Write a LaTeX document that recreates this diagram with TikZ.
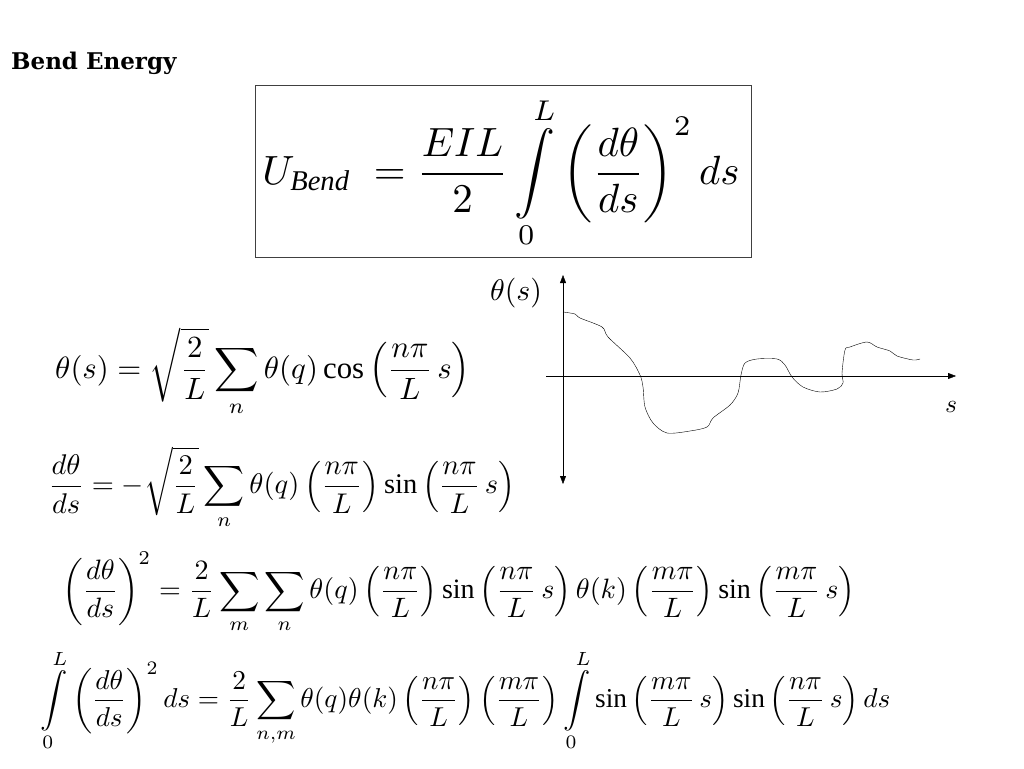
\documentclass[tikz,border=0pt]{standalone}
\usepackage{amsmath}
\usepackage{fontspec}
\usepackage{graphicx}
\setmainfont{Liberation Serif}
\newfontfamily\titlefont{DejaVu Serif}
\usetikzlibrary{arrows.meta}
\tikzset{
  eqn/.style={anchor=west, inner sep=0pt},
  axis/.style={thin, {Triangle[length=8pt,width=6pt]}-{Triangle[length=8pt,width=6pt]}}
}
\newcommand{\fitw}[2]{\resizebox{#1pt}{!}{$\displaystyle #2$}}

\begin{document}
\begin{tikzpicture}[x=1pt,y=-1pt]
\useasboundingbox (0,0) rectangle (1024,768);

\node[anchor=base west, inner sep=0pt, font=\titlefont\bfseries\fontsize{23}{26}\selectfont] (title) at (11,70) {Bend Energy};

% boxed energy
\node[draw=black!75, thin, minimum width=496pt, minimum height=172pt, inner sep=0pt] (ubox) at (503,171) {};
\node[inner sep=0pt] (ubend) at (501,173) {\fitw{477}{U_{\text{\itshape Bend}}\;=\frac{EIL}{2}\int\limits_0^L\left(\frac{d\theta}{ds}\right)^{2}ds}};

% mode expansion
\node[eqn] (eqtheta) at (55,372) {\fitw{415}{\theta(s)=\sqrt{\frac{2}{L}}\sum\limits_{n}\theta(q)\cos\left(\frac{n\pi}{L}\,s\right)}};
\node[eqn] (eqdtheta) at (48,488) {\fitw{467}{\frac{d\theta}{ds}=-\sqrt{\frac{2}{L}}\sum\limits_{n}\theta(q)\left(\frac{n\pi}{L}\right)\sin\left(\frac{n\pi}{L}\,s\right)}};
\node[eqn] (eqsq) at (62,593) {\fitw{793}{\left(\frac{d\theta}{ds}\right)^{2}=\frac{2}{L}\sum\limits_{m}\sum\limits_{n}\theta(q)\left(\frac{n\pi}{L}\right)\sin\left(\frac{n\pi}{L}\,s\right)\theta(k)\left(\frac{m\pi}{L}\right)\sin\left(\frac{m\pi}{L}\,s\right)}};
\node[eqn] (eqint) at (40,700) {\fitw{850}{\int\limits_0^L\left(\frac{d\theta}{ds}\right)^{2}ds=\frac{2}{L}\sum\limits_{n,m}\theta(q)\theta(k)\left(\frac{n\pi}{L}\right)\left(\frac{m\pi}{L}\right)\int\limits_0^L\sin\left(\frac{m\pi}{L}\,s\right)\sin\left(\frac{n\pi}{L}\,s\right)ds}};

% sketch of theta(s)
\coordinate (vtop) at (563,275);
\coordinate (vbot) at (563,484);
\coordinate (hleft) at (546,376);
\coordinate (hright) at (956,376);
\draw[axis] (vtop) -- (vbot);
\draw[thin, -{Triangle[length=8pt,width=6pt]}] (hleft) -- (hright);
\node[inner sep=0pt] (lbltheta) at (516,293) {\fitw{52}{\theta(s)}};
\node[inner sep=0pt] (lbls) at (951,407) {\fitw{12}{s}};

\draw[thin] plot[smooth, tension=0.5] coordinates {
  (563,312) (575,314) (580,318) (602,327) (608,337) (630,358) (640,375)
  (643,387) (645,407) (653,423) (667,433) (690,431) (707,427) (713,418)
  (730,405) (738,393) (741,375) (745,363) (757,359) (777,359) (785,365)
  (792,377) (803,387) (820,392) (837,389) (843,383) (842,373) (845,350)
  (850,347) (867,342) (877,347) (890,351) (897,356) (913,360) (920,359)};
\end{tikzpicture}
\end{document}
